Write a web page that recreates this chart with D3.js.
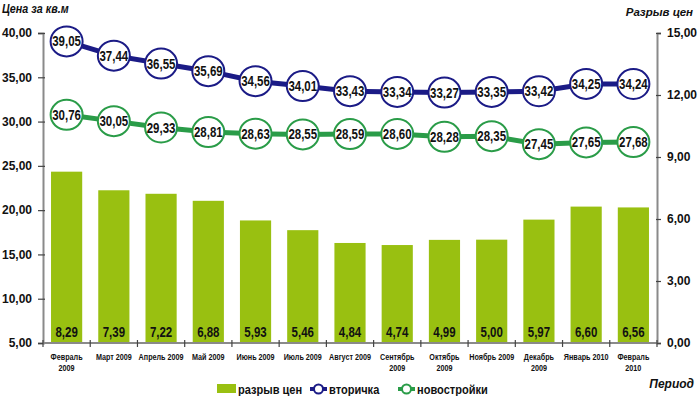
<!DOCTYPE html>
<html>
<head>
<meta charset="utf-8">
<script src="https://cdn.jsdelivr.net/npm/d3@7"></script>
<style>
  body { margin: 0; background: #fff; }
  text { font-family: "Liberation Sans", Arial, sans-serif; font-weight: bold; fill: #111; }
  .tick text { font-size: 12px; }
</style>
</head>
<body>
<script>
// periods (\n = line break)
let periods = ['Февраль\n2009', 'Март 2009', 'Апрель 2009', 'Май 2009', 'Июнь 2009', 'Июль 2009',
               'Август 2009', 'Сентябрь\n2009', 'Октябрь\n2009', 'Ноябрь 2009', 'Декабрь\n2009',
               'Январь 2010', 'Февраль\n2010'];

// разрыв цен (bars, right axis)
let gap = [8.29, 7.39, 7.22, 6.88, 5.93, 5.46, 4.84, 4.74, 4.99, 5.00, 5.97, 6.60, 6.56];
// вторичка
let secondary = [39.05, 37.44, 36.55, 35.69, 34.56, 34.01, 33.43, 33.34, 33.27, 33.35, 33.42, 34.25, 34.24];
// новостройки
let newBuild = [30.76, 30.05, 29.33, 28.81, 28.63, 28.55, 28.59, 28.60, 28.28, 28.35, 27.45, 27.65, 27.68];

let leftTicks = [5, 10, 15, 20, 25, 30, 35, 40];
let rightTicks = [0, 3, 6, 9, 12, 15];

const WIDTH = 700;
const HEIGHT = 396;
const MARGIN = {top: 33, bottom: 53, left: 43, right: 43};

const BAR = '#99c011';
const NAVY = '#1b1b86';
const GREEN = '#2a9c48';
const AXIS = '#8a8a8a';

const fmt = v => d3.format('.2f')(v).replace('.', ',');

// no narrow font installed, so squeeze the glyphs
function narrow(sel, f) {
  sel.each(function() {
    let w = this.getComputedTextLength();
    d3.select(this).attr('textLength', w * f).attr('lengthAdjust', 'spacingAndGlyphs');
  });
}

const SVG = d3.select('body')
              .append('svg')
              .attr('width', WIDTH)
              .attr('height', HEIGHT);

const xScale = d3.scaleBand()
                 .domain(d3.range(periods.length))
                 .range([MARGIN.left, WIDTH - MARGIN.right])
                 .paddingInner(0.34)
                 .paddingOuter(0.17);
const yLeft = d3.scaleLinear()
                .domain([5, 40])
                .range([HEIGHT - MARGIN.bottom, MARGIN.top]);
const yRight = d3.scaleLinear()
                 .domain([0, 15])
                 .range([HEIGHT - MARGIN.bottom, MARGIN.top]);

const cx = i => xScale(i) + xScale.bandwidth() / 2;
const base = HEIGHT - MARGIN.bottom;

// bars
SVG.selectAll('rect.bar')
   .data(gap)
   .enter()
   .append('rect')
   .attr('class', 'bar')
   .attr('x', (d, i) => xScale(i))
   .attr('y', d => yRight(d))
   .attr('width', xScale.bandwidth())
   .attr('height', d => base - yRight(d))
   .attr('fill', BAR);

SVG.selectAll('text.barlabel')
   .data(gap)
   .enter()
   .append('text')
   .attr('class', 'barlabel')
   .attr('x', (d, i) => cx(i))
   .attr('y', base - 6)
   .attr('text-anchor', 'middle')
   .style('font-size', '14px')
   .text(d => fmt(d))
   .call(narrow, 0.82);

// axes
let leftAxis = d3.axisLeft(yLeft).tickValues(leftTicks).tickFormat(fmt).tickSize(5).tickPadding(6);
let rightAxis = d3.axisRight(yRight).tickValues(rightTicks).tickFormat(fmt).tickSize(4).tickPadding(6);

function styleAxis(g) {
  g.select('.domain').attr('stroke', AXIS).attr('stroke-width', 2);
  g.selectAll('.tick line').attr('stroke', '#444').attr('stroke-width', 1.2);
  g.selectAll('.tick text').attr('fill', '#111');
}

SVG.append('g')
   .attr('transform', 'translate(' + MARGIN.left + ',0)')
   .call(leftAxis)
   .call(styleAxis)
   .call(g => g.selectAll('.tick line').attr('x1', 2));

SVG.append('g')
   .attr('transform', 'translate(' + (WIDTH - MARGIN.right) + ',0)')
   .call(rightAxis)
   .call(styleAxis)
   .call(g => g.selectAll('.tick line').attr('x1', -1));

// x axis line + band boundary ticks
SVG.append('line')
   .attr('x1', MARGIN.left).attr('x2', WIDTH - MARGIN.right)
   .attr('y1', base).attr('y2', base)
   .attr('stroke', AXIS).attr('stroke-width', 2);

let step = xScale.step();
SVG.selectAll('line.xtick')
   .data(d3.range(periods.length + 1))
   .enter()
   .append('line')
   .attr('class', 'xtick')
   .attr('x1', i => cx(0) - step / 2 + i * step)
   .attr('x2', i => cx(0) - step / 2 + i * step)
   .attr('y1', base - 3).attr('y2', base + 4)
   .attr('stroke', '#444').attr('stroke-width', 1.2);

let xl = SVG.selectAll('text.xlabel')
            .data(periods)
            .enter()
            .append('text')
            .attr('class', 'xlabel')
            .attr('text-anchor', 'middle')
            .style('font-size', '9px')
            .attr('y', base + 17);
xl.each(function(d, i) {
  d.split('\n').forEach((part, k) => {
    d3.select(this).append('tspan')
      .attr('x', cx(i))
      .attr('dy', k === 0 ? 0 : 11)
      .text(part);
  });
});
xl.selectAll('tspan').call(narrow, 0.8);

// lines with circles
function drawSeries(values, color) {
  let line = d3.line().x((d, i) => cx(i)).y(d => yLeft(d));
  SVG.append('path')
     .datum(values)
     .attr('d', line)
     .attr('fill', 'none')
     .attr('stroke', color)
     .attr('stroke-width', 5);

  let g = SVG.append('g');
  g.selectAll('ellipse')
   .data(values)
   .enter()
   .append('ellipse')
   .attr('cx', (d, i) => cx(i))
   .attr('cy', d => yLeft(d))
   .attr('rx', 16)
   .attr('ry', 15)
   .attr('fill', '#fff')
   .attr('stroke', color)
   .attr('stroke-width', 2);

  g.selectAll('text')
   .data(values)
   .enter()
   .append('text')
   .attr('x', (d, i) => cx(i))
   .attr('y', d => yLeft(d) + 5)
   .attr('text-anchor', 'middle')
   .style('font-size', '14px')
   .text(d => fmt(d))
   .call(narrow, 0.82);
}

drawSeries(secondary, NAVY);
drawSeries(newBuild, GREEN);

// axis titles
SVG.append('text')
   .attr('x', 2).attr('y', 13)
   .style('font-size', '12.5px').style('font-style', 'italic')
   .text('Цена за кв.м')
   .call(narrow, 0.86);
SVG.append('text')
   .attr('x', 693).attr('y', 16)
   .attr('text-anchor', 'end')
   .style('font-size', '11.5px').style('font-style', 'italic')
   .text('Разрыв цен');
SVG.append('text')
   .attr('x', 694).attr('y', 388)
   .attr('text-anchor', 'end')
   .style('font-size', '12px').style('font-style', 'italic')
   .text('Период');

// legend
let ly = 389;
SVG.append('rect')
   .attr('x', 217).attr('y', ly - 5).attr('width', 19).attr('height', 9)
   .attr('fill', BAR);
SVG.append('text').attr('x', 238).attr('y', ly + 5).style('font-size', '13px')
   .text('разрыв цен').call(narrow, 0.85);

[[310, NAVY, 'вторичка'], [398, GREEN, 'новостройки']].forEach(item => {
  SVG.append('line')
     .attr('x1', item[0]).attr('x2', item[0] + 17)
     .attr('y1', ly).attr('y2', ly)
     .attr('stroke', item[1]).attr('stroke-width', 4);
  SVG.append('circle')
     .attr('cx', item[0] + 8.5).attr('cy', ly).attr('r', 4.5)
     .attr('fill', '#fff').attr('stroke', item[1]).attr('stroke-width', 2);
  SVG.append('text').attr('x', item[0] + 19).attr('y', ly + 5).style('font-size', '13px')
     .text(item[2]).call(narrow, 0.85);
});
</script>
</body>
</html>
